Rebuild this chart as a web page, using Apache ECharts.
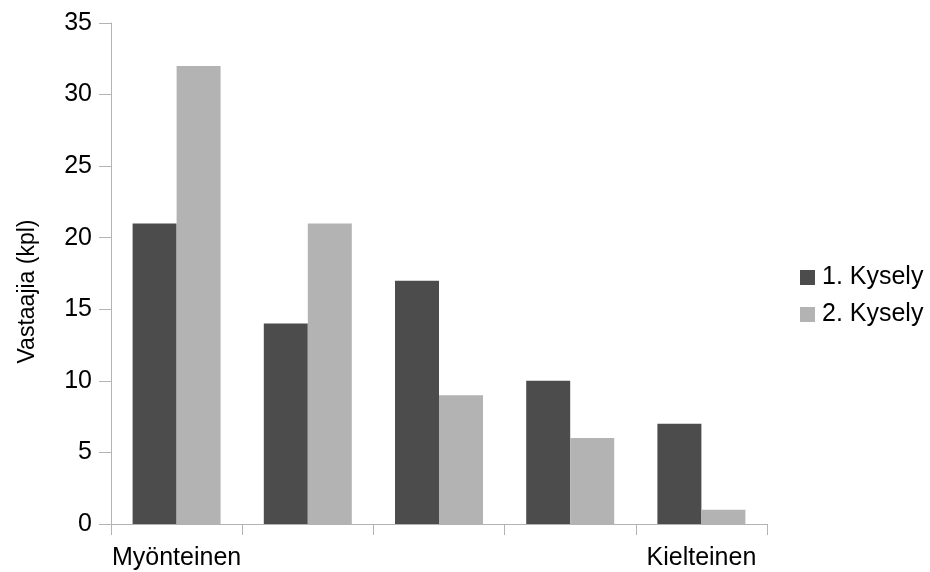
<!DOCTYPE html>
<html>
<head>
<meta charset="utf-8">
<script src="https://cdn.jsdelivr.net/npm/echarts@6/dist/echarts.min.js"></script>
<style>html,body{margin:0;padding:0;background:#fff}#c{width:930px;height:572px}</style>
</head>
<body>
<div id="c"></div>
<script>
const categories = ['Myönteinen', '', '', '', 'Kielteinen'];
const seriesNames = ['1. Kysely', '2. Kysely'];
const kysely1 = [21, 14, 17, 10, 7];
const kysely2 = [32, 21, 9, 6, 1];
const yTicks = [0, 5, 10, 15, 20, 25, 30, 35];

const chart = echarts.init(document.getElementById('c'));
const font = 'Liberation Sans, Arial, sans-serif';
chart.setOption({
  animation: false,
  backgroundColor: '#fff',
  grid: { left: 111, right: 163, top: 23, bottom: 48, containLabel: false },
  legend: {
    orient: 'vertical', left: 795, top: 260, itemWidth: 15, itemHeight: 15, itemGap: 12,
    icon: 'rect',
    textStyle: { fontFamily: font, fontSize: 25, color: '#000', padding: [0, 0, 0, 2] },
    data: seriesNames
  },
  xAxis: {
    type: 'category', data: categories,
    axisLine: { lineStyle: { color: '#b3b3b3', width: 1 } },
    axisTick: { show: true, length: 11, alignWithLabel: false, lineStyle: { color: '#b3b3b3' } },
    axisLabel: { fontFamily: font, fontSize: 25, color: '#000', margin: 22, interval: 0 }
  },
  yAxis: {
    type: 'value', min: yTicks[0], max: yTicks[yTicks.length - 1], interval: 5,
    name: 'Vastaajia (kpl)', nameLocation: 'middle', nameGap: 72,
    nameTextStyle: { fontFamily: font, fontSize: 23, color: '#000', padding: [0, 36, 0, 0] },
    axisLine: { show: true, lineStyle: { color: '#b3b3b3', width: 1 } },
    axisTick: { show: true, length: 12, lineStyle: { color: '#b3b3b3' } },
    splitLine: { show: false },
    axisLabel: { fontFamily: font, fontSize: 25, color: '#000', margin: 19 }
  },
  series: [
    { name: seriesNames[0], type: 'bar', data: kysely1, barWidth: 44, barGap: '0%', itemStyle: { color: '#4c4c4c' } },
    { name: seriesNames[1], type: 'bar', data: kysely2, barWidth: 44, itemStyle: { color: '#b3b3b3' } }
  ]
});
</script>
</body>
</html>
